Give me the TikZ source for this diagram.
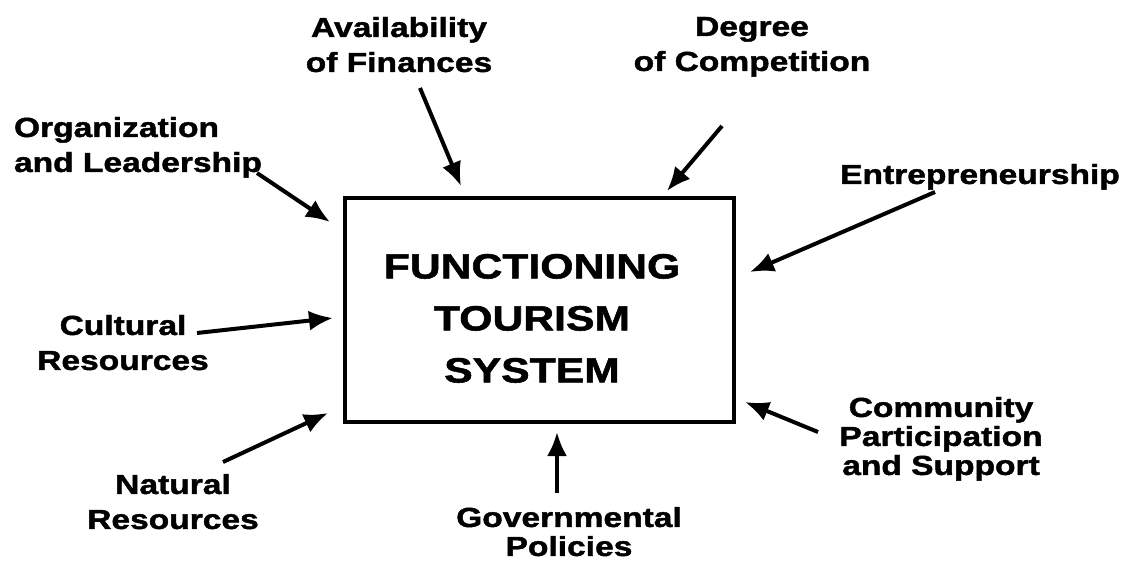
\documentclass[tikz,border=0pt]{standalone}
\usepackage{fontspec}
\setmainfont{Liberation Sans}[FakeStretch=1.22,BoldFeatures={FakeBold=1.6}]
\usetikzlibrary{arrows.meta}

\begin{document}
\begin{tikzpicture}[x=0.5pt,y=-0.5pt,->,>={Latex[length=12pt,width=10pt]},line width=2pt,
    factor/.style={inner sep=0pt,anchor=north,align=center,font=\fontsize{13.75}{17.5}\selectfont\bfseries},
    tight/.style={font=\fontsize{13.75}{14.5}\selectfont\bfseries}]
  \useasboundingbox (0,0) rectangle (1123,562);

  \node[draw,line width=2.25pt,minimum width=194.5pt,minimum height=112pt,inner sep=0pt] (sys) at (539.5,310) {};
  \node[inner sep=0pt,anchor=north,align=center,font=\fontsize{17.5}{26}\selectfont\bfseries] (sysname) at (532,252) {FUNCTIONING\\TOURISM\\SYSTEM};

  \node[factor,anchor=north west,align=left] (org) at (12,115) {Organization\\and Leadership};
  \node[factor] (fin) at (399,15) {Availability\\of Finances};
  \node[factor] (comp) at (752,15) {Degree\\of Competition};
  \node[factor] (entr) at (980,162) {Entrepreneurship};
  \node[factor] (cult) at (123,313) {Cultural\\Resources};
  \node[factor] (nat) at (173,472) {Natural\\Resources};
  \node[factor,tight] (gov) at (569,505) {Governmental\\Policies};
  \node[factor,tight] (comm) at (941,395) {Community\\Participation\\and Support};

  \coordinate (org-from) at (257,173);  \coordinate (org-to) at (330,222);
  \coordinate (fin-from) at (420,88);   \coordinate (fin-to) at (461,186);
  \coordinate (comp-from) at (722,126); \coordinate (comp-to) at (667,191);
  \coordinate (entr-from) at (935,192); \coordinate (entr-to) at (750,272);
  \coordinate (cult-from) at (197,333); \coordinate (cult-to) at (333,318);
  \coordinate (nat-from) at (223,462);  \coordinate (nat-to) at (328,413);
  \coordinate (gov-from) at (557,493);  \coordinate (gov-to) at (557,432);
  \coordinate (comm-from) at (818,432); \coordinate (comm-to) at (745,402);

  \draw (org-from) -- (org-to);
  \draw (fin-from) -- (fin-to);
  \draw (comp-from) -- (comp-to);
  \draw (entr-from) -- (entr-to);
  \draw (cult-from) -- (cult-to);
  \draw (nat-from) -- (nat-to);
  \draw (gov-from) -- (gov-to);
  \draw (comm-from) -- (comm-to);
\end{tikzpicture}
\end{document}
